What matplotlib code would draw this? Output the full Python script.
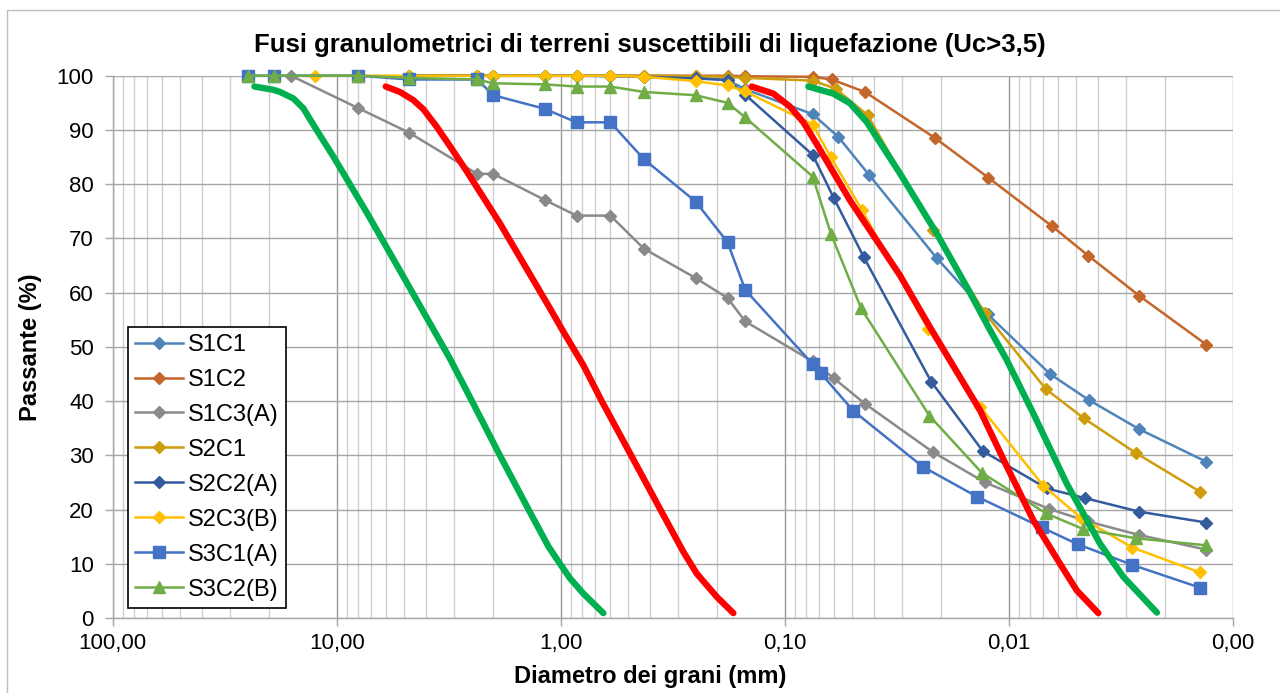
import matplotlib
matplotlib.use("Agg")
import matplotlib.pyplot as plt
from matplotlib.ticker import LogLocator, FuncFormatter, NullFormatter, MultipleLocator
from matplotlib.patches import Rectangle

plt.rcParams['font.family'] = ['Liberation Sans', 'DejaVu Sans']

# ---- grain size data (diameter in mm, percent passing) ----
S1C1_D = [4.75, 2.36, 2.0, 1.18, 0.85, 0.6, 0.425, 0.25, 0.18, 0.15, 0.075,
          0.0576, 0.0420, 0.0210, 0.0124, 0.00654, 0.00439, 0.00261, 0.00131]
S1C1_P = [100, 100, 100, 100, 100, 99.9, 99.8, 99.6, 99.2, 97.5, 92.9,
          88.7, 81.7, 66.4, 56.0, 45.0, 40.2, 34.8, 28.8]

S1C2_D = [4.75, 2.36, 2.0, 1.18, 0.85, 0.6, 0.425, 0.25, 0.18, 0.15, 0.075,
          0.0617, 0.0438, 0.0213, 0.01233, 0.00643, 0.00441, 0.00261, 0.00131]
S1C2_P = [100, 100, 100, 100, 100, 100, 100, 100, 100, 99.9, 99.8,
          99.3, 97.0, 88.5, 81.2, 72.3, 66.8, 59.4, 50.4]

S1C3_D = [16, 8, 4.75, 2.36, 2.0, 1.18, 0.85, 0.6, 0.425, 0.25, 0.18, 0.15, 0.075,
          0.0603, 0.0438, 0.0218, 0.01276, 0.00659, 0.00443, 0.00261, 0.00131]
S1C3_P = [100, 94.0, 89.5, 81.9, 81.9, 77.1, 74.2, 74.2, 68.1, 62.7, 59.0, 54.7, 47.3,
          44.2, 39.5, 30.6, 25.0, 20.1, 17.8, 15.3, 12.6]

S2C1_D = [4.75, 2.36, 2.0, 1.18, 0.85, 0.6, 0.425, 0.25, 0.18, 0.15, 0.075,
          0.0592, 0.0426, 0.0217, 0.01276, 0.00682, 0.00461, 0.00270, 0.00140]
S2C1_P = [100, 100, 100, 100, 100, 100, 100, 99.9, 99.8, 99.6, 99.1,
          97.6, 92.7, 71.6, 56.2, 42.2, 36.8, 30.4, 23.3]

S2C2_D = [4.75, 2.36, 2.0, 1.18, 0.85, 0.6, 0.425, 0.25, 0.18, 0.15, 0.075,
          0.0603, 0.0443, 0.0222, 0.01306, 0.00677, 0.00456, 0.00261, 0.00131]
S2C2_P = [100, 100, 100, 100, 100, 100, 99.8, 99.5, 99.2, 96.5, 85.4,
          77.4, 66.5, 43.6, 30.8, 23.9, 22.1, 19.6, 17.6]

S2C3_D = [12.5, 4.75, 2.36, 2.0, 1.18, 0.85, 0.6, 0.425, 0.25, 0.18, 0.15, 0.075,
          0.0623, 0.0453, 0.0229, 0.01342, 0.00701, 0.00477, 0.00281, 0.00140]
S2C3_P = [100, 100, 100, 100, 100, 100, 100, 99.8, 99.0, 98.2, 97.1, 91.0,
          85.0, 75.3, 53.3, 39.0, 24.4, 18.5, 13.0, 8.4]

S3C1_D = [25, 19, 8, 4.75, 2.36, 2.0, 1.18, 0.85, 0.6, 0.425, 0.25, 0.18, 0.15, 0.075,
          0.0689, 0.0494, 0.0242, 0.01389, 0.00712, 0.00492, 0.00281, 0.00140]
S3C1_P = [100, 100, 100, 99.3, 99.3, 96.4, 93.9, 91.4, 91.4, 84.6, 76.8, 69.3, 60.5, 46.8,
          45.1, 38.2, 27.9, 22.4, 16.7, 13.6, 9.8, 5.6]

S3C2_D = [25, 19, 8, 4.75, 2.36, 2.0, 1.18, 0.85, 0.6, 0.425, 0.25, 0.18, 0.15, 0.075,
          0.0621, 0.0456, 0.0226, 0.01320, 0.00682, 0.00465, 0.00270, 0.00131]
S3C2_P = [100, 100, 100, 99.6, 99.3, 98.6, 98.4, 98.0, 98.0, 97.0, 96.4, 95.0, 92.3, 81.4,
          70.8, 57.1, 37.3, 26.8, 19.3, 16.4, 14.7, 13.4]

# ---- limiting grading curves (liquefaction envelopes) ----
GREEN_L_D = [23.3, 19.2, 17.9, 15.6, 14.1, 12.3, 10.35, 7.35, 5.21, 3.70, 3.12,
             2.49, 1.88, 1.40, 1.135, 1.007, 0.908, 0.792, 0.645]
GREEN_L_P = [98.0, 97.4, 97.0, 95.8, 94.0, 90.0, 85.1, 74.8, 64.0, 53.2, 47.8,
             40.0, 30.2, 20.2, 13.2, 10.0, 7.3, 4.5, 0.9]

RED_L_D = [6.04, 5.22, 4.55, 4.10, 3.58, 3.12, 2.63, 1.87, 1.135, 0.973, 0.792,
           0.656, 0.485, 0.359, 0.2834, 0.247, 0.201, 0.1695]
RED_L_P = [98.0, 97.0, 95.5, 93.8, 90.6, 87.0, 82.4, 72.8, 57.6, 52.8, 46.6,
           40.0, 30.0, 20.0, 12.2, 8.2, 3.9, 0.9]

RED_R_D = [0.1404, 0.1124, 0.0947, 0.0825, 0.0720, 0.0511, 0.0306, 0.02245,
           0.01343, 0.01021, 0.00776, 0.0059, 0.00497, 0.00398]
RED_R_P = [98.0, 96.7, 94.3, 91.4, 87.4, 77.0, 63.2, 53.6,
           38.3, 28.0, 18.0, 10.0, 5.1, 0.9]

GREEN_R_D = [0.0784, 0.0607, 0.0511, 0.0431, 0.0306, 0.02096, 0.01540, 0.01212,
             0.01021, 0.00776, 0.00551, 0.00391, 0.00308, 0.00218]
GREEN_R_P = [98.0, 96.7, 94.9, 91.5, 82.0, 70.9, 61.1, 53.1,
             47.6, 37.7, 24.8, 13.7, 7.6, 1.0]

SERIES = [
    ("S1C1", S1C1_D, S1C1_P, "#4F84BA", "D"),
    ("S1C2", S1C2_D, S1C2_P, "#C4652A", "D"),
    ("S1C3(A)", S1C3_D, S1C3_P, "#8A8A8A", "D"),
    ("S2C1", S2C1_D, S2C1_P, "#CF9D0B", "D"),
    ("S2C2(A)", S2C2_D, S2C2_P, "#335B9E", "D"),
    ("S2C3(B)", S2C3_D, S2C3_P, "#FFC000", "D"),
    ("S3C1(A)", S3C1_D, S3C1_P, "#4472C4", "s"),
    ("S3C2(B)", S3C2_D, S3C2_P, "#70AD47", "^"),
]

ENVELOPES = [
    (GREEN_L_D, GREEN_L_P, "#00B050"),
    (RED_L_D, RED_L_P, "#FF0000"),
    (RED_R_D, RED_R_P, "#FF0000"),
    (GREEN_R_D, GREEN_R_P, "#00B050"),
]

W, H = 1280, 693
fig = plt.figure(figsize=(W / 100, H / 100), dpi=100)

# chart area border
fig.add_artist(Rectangle((7 / W, -0.1), 1.2, 1.1 - 10 / H, transform=fig.transFigure,
                         fill=False, edgecolor="#BFBFBF", linewidth=1.0))

x0, x1 = 112.7, 1232.7
y_top, y_bot = 75.7, 618.0
ax = fig.add_axes([x0 / W, 1 - y_bot / H, (x1 - x0) / W, (y_bot - y_top) / H])

ax.set_xscale("log")
ax.set_xlim(100, 0.001)
ax.set_ylim(0, 100)

ax.xaxis.set_major_locator(LogLocator(base=10, numticks=10))
ax.xaxis.set_minor_locator(LogLocator(base=10, subs=range(2, 10), numticks=20))
ax.xaxis.set_major_formatter(FuncFormatter(lambda v, p: f"{v:.2f}".replace(".", ",")))
ax.xaxis.set_minor_formatter(NullFormatter())
ax.yaxis.set_major_locator(MultipleLocator(10))

ax.grid(True, which="major", axis="y", color="#A6A6A6", linewidth=1.0)
ax.grid(True, which="major", axis="x", color="#999999", linewidth=1.0)
ax.grid(True, which="minor", axis="x", color="#CFCFCF", linewidth=1.0)
ax.set_axisbelow(True)

for side in ("top", "right"):
    ax.spines[side].set_visible(False)
for side in ("left", "bottom"):
    ax.spines[side].set_color("#A6A6A6")
    ax.spines[side].set_linewidth(1.0)

ax.tick_params(axis="both", which="major", direction="out", length=6, width=1.0,
               color="#A6A6A6", labelsize=16, labelcolor="black")
ax.tick_params(axis="x", which="major", pad=5)
ax.tick_params(axis="y", which="major", pad=7.5)
ax.tick_params(axis="x", which="minor", length=0)

for name, d, p, col, mk in SERIES:
    ms = {"D": 5.8, "s": 8.5, "^": 8.0}[mk]
    ax.plot(d, p, color=col, linewidth=1.8, marker=mk, markersize=ms,
            markerfacecolor=col, markeredgecolor=col, label=name,
            clip_on=False, zorder=3)

for d, p, col in ENVELOPES:
    ax.plot(d, p, color=col, linewidth=4.6, solid_capstyle="round",
            solid_joinstyle="round", zorder=5)

leg = ax.legend(loc="upper left", bbox_to_anchor=(127.7 / W, 1 - 326.7 / H),
                bbox_transform=fig.transFigure, fontsize=17, numpoints=1,
                handlelength=2.05, handletextpad=0.22, labelspacing=0.55,
                borderpad=0.3, borderaxespad=0, fancybox=False, framealpha=1)
leg.get_frame().set_edgecolor("black")
leg.get_frame().set_linewidth(1.2)
leg.set_zorder(10)

fig.text(650 / W, 1 - 45 / H,
         "Fusi granulometrici di terreni suscettibili di liquefazione (Uc>3,5)",
         ha="center", va="center", fontsize=18.5, fontweight="bold")
fig.text(650 / W, 1 - 677 / H, "Diametro dei grani (mm)",
         ha="center", va="center", fontsize=17, fontweight="bold")
fig.text(31 / W, 1 - 347 / H, "Passante (%)", rotation=90,
         ha="center", va="center", fontsize=17, fontweight="bold")

fig.savefig("out.png", dpi=100)
